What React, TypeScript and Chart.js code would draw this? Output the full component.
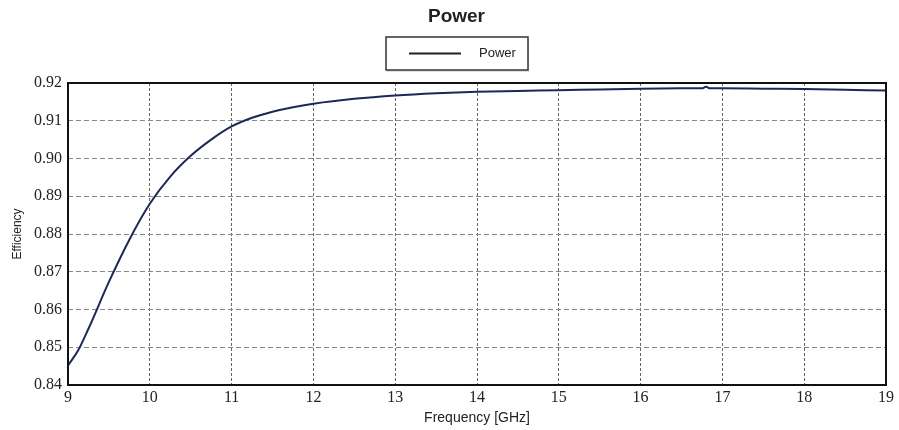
import React, { useEffect, useRef } from "react";
import { Chart, registerables } from "chart.js";

Chart.register(...registerables);

const frequency: number[] = [
  9.0, 9.125, 9.25, 9.5, 9.75, 10.0, 10.25, 10.5, 10.75, 11.0, 11.25, 11.5,
  11.75, 12.0, 12.5, 13.0, 13.5, 14.0, 14.5, 15.0, 15.5, 16.0, 16.5, 16.75,
  16.8, 16.85, 17.0, 17.5, 18.0, 18.5, 19.0,
];
const efficiency: number[] = [
  0.8452, 0.8492, 0.8549, 0.8673, 0.8785, 0.888, 0.8952, 0.9007, 0.905,
  0.9085, 0.9108, 0.9124, 0.9136, 0.9145, 0.9158, 0.9167, 0.9173, 0.9177,
  0.9179, 0.9181, 0.9183, 0.9185, 0.9186, 0.9186, 0.919, 0.9186, 0.9186,
  0.9185, 0.9184, 0.9182, 0.918,
];
const xTicks: number[] = [9, 10, 11, 12, 13, 14, 15, 16, 17, 18, 19];
const yTicks: number[] = [0.84, 0.85, 0.86, 0.87, 0.88, 0.89, 0.9, 0.91, 0.92];
const seriesName = "Power";
const chartTitle = "Power";
const xTitle = "Frequency [GHz]";
const yTitle = "Efficiency";

const frameAndLegend = {
  id: "frameAndLegend",
  afterDraw(chart: any) {
    const ctx = chart.ctx;
    const a = chart.chartArea;
    ctx.save();
    ctx.strokeStyle = "#111";
    ctx.lineWidth = 2;
    ctx.strokeRect(a.left, a.top, a.right - a.left, a.bottom - a.top);
    const cx = chart.width / 2 + 7;
    // title
    ctx.fillStyle = "#222";
    ctx.font = "bold 19px 'Liberation Sans', Arial, sans-serif";
    ctx.textAlign = "center";
    ctx.textBaseline = "alphabetic";
    ctx.fillText(chartTitle, cx, 22);
    // legend box
    const bw = 142;
    const bh = 33;
    const bx = Math.round(cx - bw / 2);
    const by = 37;
    ctx.fillStyle = "rgba(0,0,0,0.12)";
    ctx.fillRect(bx + 1, by + 2, bw, bh);
    ctx.fillStyle = "#fff";
    ctx.fillRect(bx, by, bw, bh);
    ctx.strokeStyle = "#333";
    ctx.lineWidth = 1.5;
    ctx.strokeRect(bx, by, bw, bh);
    const ly = by + bh / 2;
    ctx.strokeStyle = "#222";
    ctx.lineWidth = 2;
    ctx.beginPath();
    ctx.moveTo(bx + 23, ly);
    ctx.lineTo(bx + 75, ly);
    ctx.stroke();
    ctx.fillStyle = "#222";
    ctx.font = "13px 'Liberation Sans', Arial, sans-serif";
    ctx.textBaseline = "middle";
    ctx.textAlign = "left";
    ctx.fillText(seriesName, bx + 93, ly);
    ctx.restore();
  },
};

export default function App() {
  const ref = useRef<HTMLCanvasElement | null>(null);
  useEffect(() => {
    if (!ref.current) return;
    const chart = new Chart(ref.current, {
      type: "line",
      data: {
        datasets: [
          {
            label: seriesName,
            data: frequency.map((f, i) => ({ x: f, y: efficiency[i] })),
            borderColor: "#1c2957",
            borderWidth: 2,
            pointRadius: 0,
            fill: false,
            cubicInterpolationMode: "monotone",
          },
        ],
      },
      options: {
        animation: false,
        responsive: true,
        maintainAspectRatio: false,
        layout: { padding: { left: 0, right: 13, top: 83, bottom: 0 } },
        plugins: {
          legend: { display: false },
          tooltip: { enabled: false },
          title: { display: false },
        },
        scales: {
          x: {
            type: "linear",
            min: 9,
            max: 19,
            afterBuildTicks: (s: any) => {
              s.ticks = xTicks.map((v) => ({ value: v }));
            },
            afterFit: (s: any) => {
              s.height = 45;
            },
            ticks: {
              color: "#222",
              padding: 3,
              font: { family: "'Liberation Serif', 'Times New Roman', serif", size: 16 },
              callback: (v: any) => String(v),
            },
            grid: {
              color: "#666",
              lineWidth: 1,
              drawTicks: false,
            },
            border: { display: false, dash: [3, 2] },
            title: {
              display: true,
              text: xTitle,
              color: "#222",
              font: { family: "'Liberation Sans', Arial, sans-serif", size: 14 },
              padding: { top: 4, bottom: 3 },
            },
          },
          y: {
            type: "linear",
            min: 0.84,
            max: 0.92,
            afterBuildTicks: (s: any) => {
              s.ticks = yTicks.map((v) => ({ value: v }));
            },
            afterFit: (s: any) => {
              s.width = 68;
            },
            ticks: {
              color: "#222",
              padding: 6,
              font: { family: "'Liberation Serif', 'Times New Roman', serif", size: 16 },
              callback: (v: any) => Number(v).toFixed(2),
            },
            grid: {
              color: "#888",
              lineWidth: 1,
              drawTicks: false,
            },
            border: { display: false, dash: [5, 3] },
            title: {
              display: true,
              text: yTitle,
              color: "#222",
              font: { family: "'Liberation Sans', Arial, sans-serif", size: 12 },
              padding: { top: 10, bottom: 4 },
            },
          },
        },
      },
      plugins: [frameAndLegend],
    });
    return () => chart.destroy();
  }, []);
  return (
    <div style={{ position: "absolute", left: 0, top: 0, width: 899, height: 430 }}>
      <canvas ref={ref} />
    </div>
  );
}
